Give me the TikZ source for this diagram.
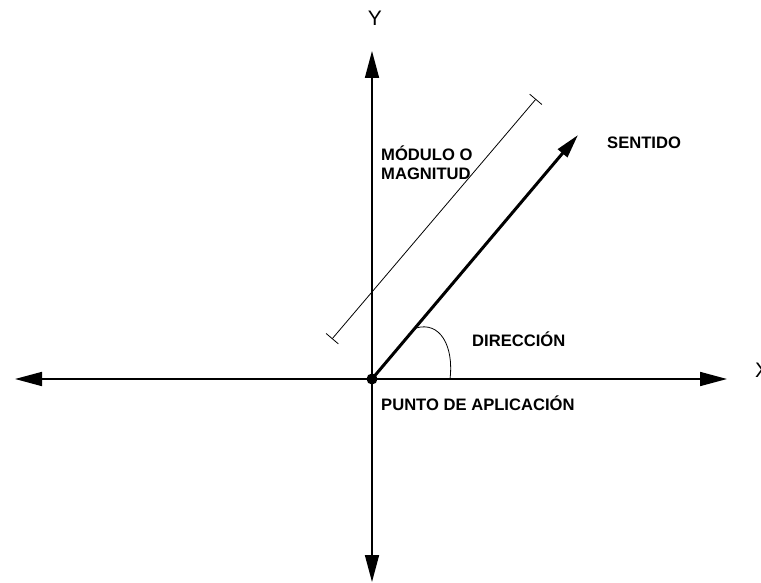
\documentclass[tikz,border=0pt]{standalone}
\usepackage{fontspec}
\setmainfont{Liberation Sans}
\usetikzlibrary{arrows.meta}
\begin{document}
\begin{tikzpicture}[x=1pt,y=-1pt,
  axis/.style={line width=1.7pt,-{Triangle[length=27pt,width=14pt]}},
  vec/.style={line width=3pt,-{Triangle[length=24pt,width=12pt]}},
  dim/.style={line width=0.8pt,{Bar[width=16pt,line width=0.8pt]}-{Bar[width=16pt,line width=0.8pt]}},
  lbl/.style={font=\fontsize{16.6}{18}\selectfont\bfseries,inner sep=0pt,anchor=base west},
  axlbl/.style={font=\fontsize{21}{23}\selectfont,inner sep=0pt}]
\useasboundingbox (0,0) rectangle (761,583);
\fill[white] (0,0) rectangle (761,583);
\coordinate (O) at (372,379);
\coordinate (L) at (15,379);
\coordinate (R) at (727,379);
\coordinate (T) at (372,51);
\coordinate (B) at (372,582);
\coordinate (V) at (578,135);
\coordinate (D1) at (332,339);
\coordinate (D2) at (536,99);
\coordinate (A1) at (416,328);
\coordinate (A2) at (450,379);
\draw[axis] (O) -- (L);
\draw[axis] (O) -- (R);
\draw[axis] (O) -- (T);
\draw[axis] (O) -- (B);
\draw[vec] (O) -- (V);
\draw[dim] (D1) -- (D2);
\draw[line width=0.8pt] (A1) .. controls (440,321) and (454,346) .. (A2);
\fill (O) circle (5.5pt);
\node[axlbl] (ylab) at (375,18) {Y};
\node[axlbl,anchor=west] (xlab) at (755,370) {X};
\node[lbl] (mod1) at (381,161) {MÓDULO O};
\node[lbl] (mod2) at (381,179) {MAGNITUD};
\node[lbl] (sent) at (607,149) {SENTIDO};
\node[lbl] (dir) at (472,346) {DIRECCIÓN};
\node[lbl] (pto) at (381,410) {PUNTO DE APLICACIÓN};
\end{tikzpicture}
\end{document}
